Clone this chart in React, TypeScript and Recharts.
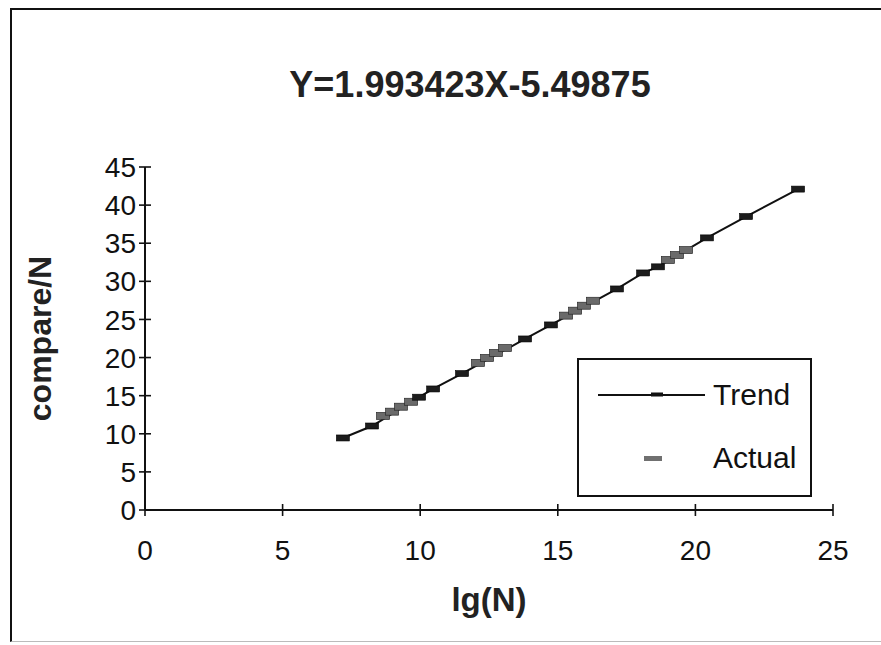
import { ComposedChart, Line, Scatter, XAxis, YAxis, Legend } from 'recharts'

// lg(N) positions of the trend markers and their values
const trendX = [7.19, 8.25, 9.96, 10.47, 11.52, 13.81, 14.75, 17.15, 18.1, 18.64, 20.42, 21.84, 23.73]
const trendY = [9.45, 11.02, 14.8, 15.88, 17.9, 22.44, 24.28, 29.0, 31.1, 31.9, 35.7, 38.5, 42.1]

// measured points (the grey runs along the line)
const actualX = [8.65, 8.98, 9.3, 9.67, 12.1, 12.43, 12.75, 13.08, 15.3, 15.63, 15.95, 16.28, 19.0, 19.33, 19.66]
const actualY = [12.34, 12.9, 13.55, 14.2, 19.3, 19.95, 20.6, 21.25, 25.5, 26.15, 26.8, 27.45, 32.8, 33.45, 34.1]

const xTicks = [0, 5, 10, 15, 20, 25]
const yTicks = [0, 5, 10, 15, 20, 25, 30, 35, 40, 45]
const seriesNames = ['Trend', 'Actual']
const title = 'Y=1.993423X-5.49875'

const trendRows = trendX.map((x, i) => ({ x, trend: trendY[i] }))
const actualRows = actualX.map((x, i) => ({ x, actual: actualY[i] }))

const font = "'Liberation Sans', Arial, sans-serif"
const ink = '#111'

const YTick = (props: any) => {
  const { x, y, payload } = props
  const ax = x + 10 // tickSize + tickMargin
  return (
    <g>
      <line x1={ax - 6} x2={ax + 6} y1={y} y2={y} stroke={ink} strokeWidth={1.6} />
      <text x={x + 1} y={y} dy="0.36em" textAnchor="end" fontSize={28} fontFamily={font} fill={ink}>
        {payload.value}
      </text>
    </g>
  )
}

const XTick = (props: any) => {
  const { x, y, payload } = props
  const ay = y - 30
  return (
    <g>
      <line x1={x} x2={x} y1={ay - 6} y2={ay + 6} stroke={ink} strokeWidth={1.6} />
      <text x={x} y={y} dy="0.71em" textAnchor="middle" fontSize={28} fontFamily={font} fill={ink}>
        {payload.value}
      </text>
    </g>
  )
}

const TrendDot = (props: any) => {
  const { cx, cy, index } = props
  if (cx == null || cy == null) return null
  return <rect key={`t-${index}`} x={cx - 6.5} y={cy - 3} width={13} height={6} fill="#1c1c1c" stroke="#000" strokeWidth={0.6} />
}

const ActualDash = (props: any) => {
  const { cx, cy } = props
  if (cx == null || cy == null) return null
  return <rect x={cx - 6.5} y={cy - 3.5} width={13} height={7} fill="#6a6a6a" stroke="#2a2a2a" strokeWidth={0.7} />
}

const renderLegend = (props: any) => {
  const items = [...(props.payload || [])].sort(
    (a: any, b: any) => seriesNames.indexOf(a.value) - seriesNames.indexOf(b.value)
  )
  return (
    <div
      style={{
        width: 235,
        height: 139,
        border: `2px solid ${ink}`,
        boxSizing: 'border-box',
        position: 'relative',
        background: '#fff',
        fontFamily: font,
      }}
    >
      {items.map((item: any, i: number) => (
        <div
          key={item.value}
          style={{ position: 'absolute', left: 0, top: i === 0 ? 17 : 80, height: 36, width: 233, display: 'flex', alignItems: 'center' }}
        >
          <svg width={134} height={36} style={{ display: 'block' }}>
            {item.value === 'Trend' ? (
              <g>
                <line x1={19} x2={126} y1={18} y2={18} stroke={ink} strokeWidth={2} />
                <rect x={72} y={15.5} width={12} height={4} fill={ink} />
              </g>
            ) : (
              <rect x={65} y={16} width={18} height={5} fill="#707070" />
            )}
          </svg>
          <span style={{ fontSize: 30, color: ink, lineHeight: '36px' }}>{item.value}</span>
        </div>
      ))}
    </div>
  )
}

export default function App() {
  return (
    <div style={{ position: 'absolute', left: 0, top: 0, width: 881, height: 645, background: '#fff', fontFamily: font }}>
      <div
        style={{
          position: 'absolute',
          left: 10,
          top: 8,
          width: 871,
          height: 634,
          boxSizing: 'border-box',
          borderLeft: `2px solid ${ink}`,
          borderTop: `2px solid ${ink}`,
          borderBottom: '1px solid #bbb',
        }}
      />
      <div
        style={{
          position: 'absolute',
          left: 170,
          width: 600,
          top: 64,
          textAlign: 'center',
          fontSize: 36,
          fontWeight: 'bold',
          lineHeight: '42px',
          color: '#222',
        }}
      >
        {title}
      </div>
      <ComposedChart width={881} height={645} margin={{ top: 167, right: 48, bottom: 25, left: 0 }}>
        <XAxis
          type="number"
          dataKey="x"
          domain={[0, 25]}
          ticks={xTicks}
          interval={0}
          height={110}
          tickSize={6}
          tickMargin={24}
          tickLine={false}
          tick={<XTick />}
          axisLine={{ stroke: ink, strokeWidth: 2 }}
          allowDuplicatedCategory={false}
          label={{ value: 'lg(N)', position: 'insideBottom', offset: 9, fontSize: 33, fontWeight: 'bold', fill: '#222', fontFamily: font }}
        />
        <YAxis
          type="number"
          domain={[0, 45]}
          ticks={yTicks}
          interval={0}
          width={145}
          tickSize={6}
          tickMargin={4}
          tickLine={false}
          tick={<YTick />}
          axisLine={{ stroke: ink, strokeWidth: 2 }}
          label={{
            value: 'compare/N',
            angle: -90,
            position: 'insideLeft',
            offset: 40,
            fontSize: 32,
            fontWeight: 'bold',
            fill: '#222',
            fontFamily: font,
            style: { textAnchor: 'middle' },
          }}
        />
        <Line
          data={trendRows}
          dataKey="trend"
          name="Trend"
          type="linear"
          stroke={ink}
          strokeWidth={2}
          dot={TrendDot}
          activeDot={false}
          isAnimationActive={false}
        />
        <Scatter data={actualRows} dataKey="actual" name="Actual" fill="#707070" shape={ActualDash} isAnimationActive={false} />
        <Legend
          layout="horizontal"
          verticalAlign="middle"
          align="center"
          content={renderLegend}
          wrapperStyle={{ left: 577, top: 358, width: 235, height: 139 }}
        />
      </ComposedChart>
    </div>
  )
}
